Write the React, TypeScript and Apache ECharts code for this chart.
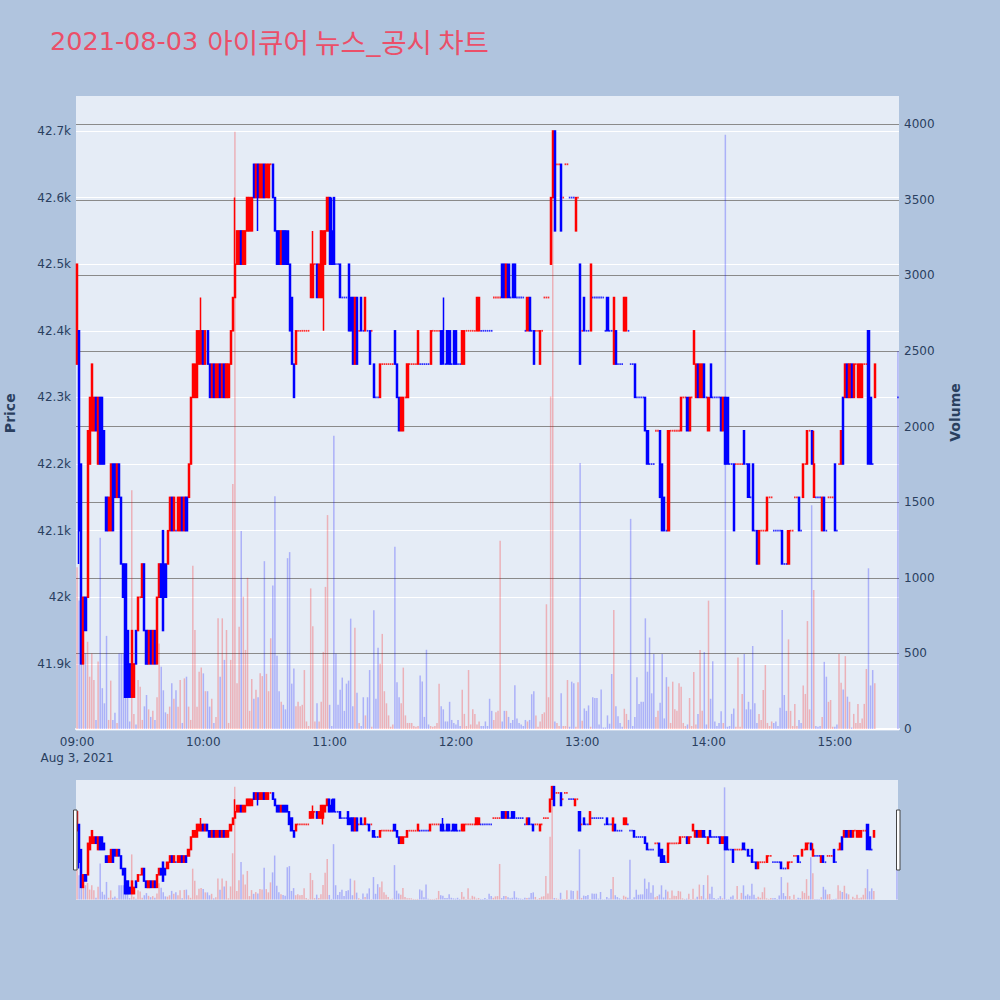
import React, { useEffect, useRef } from 'react';
import * as echarts from 'echarts';

const titleDate = '2021-08-03';
const titleName = '아이큐어 뉴스_공시 차트';
const dateLabel = 'Aug 3, 2021';
const timeTickMinutes = [0, 60, 120, 180, 240, 300, 360];
const timeTickLabels = ['09:00', '10:00', '11:00', '12:00', '13:00', '14:00', '15:00'];
const closingAuctionMinute = 390;

// one candle per minute from 09:00 (index = minutes after 09:00), last entry = 15:30 closing auction
const opens = [
  42350, 42400, 42200, 41900, 42000, 42000, 42200, 42250, 42250, 42300,
  42200, 42300, 42300, 42250, 42150, 42100, 42100, 42200, 42200, 42150,
  42200, 42150, 42050, 42050, 41950, 41900, 41850, 41850, 41950, 41950,
  42000, 42000, 42050, 41950, 41900, 41950, 41900, 41950, 41900, 42000,
  42050, 42100, 42050, 42050, 42100, 42150, 42100, 42100, 42100, 42100,
  42150, 42100, 42150, 42150, 42200, 42300, 42300, 42300, 42350, 42350,
  42400, 42350, 42400, 42350, 42300, 42350, 42300, 42300, 42350, 42300,
  42350, 42300, 42300, 42350, 42400, 42450, 42500, 42500, 42550, 42500,
  42500, 42550, 42550, 42550, 42650, 42600, 42650, 42600, 42600, 42650,
  42600, 42600, 42650, 42650, 42600, 42550, 42550, 42500, 42550, 42550,
  42550, 42500, 42450, 42350, 42350, 42400, 42400, 42400, 42400, 42400,
  42400, 42450, 42450, 42500, 42500, 42450, 42450, 42450, 42500, 42550,
  42600, 42550, 42600, 42500, 42500, 42500, 42450, 42450, 42450, 42500,
  42450, 42450, 42350, 42450, 42400, 42450, 42400, 42400, 42400, 42400,
  42400, 42350, 42300, 42300, 42300, 42350, 42350, 42350, 42350, 42350,
  42350, 42400, 42350, 42300, 42250, 42250, 42300, 42300, 42350, 42350,
  42350, 42350, 42350, 42350, 42350, 42350, 42350, 42350, 42350, 42400,
  42400, 42400, 42400, 42400, 42400, 42350, 42400, 42400, 42350, 42400,
  42400, 42350, 42350, 42350, 42350, 42400, 42400, 42400, 42400, 42400,
  42400, 42400, 42400, 42400, 42400, 42400, 42400, 42400, 42450, 42450,
  42450, 42450, 42500, 42500, 42450, 42500, 42450, 42500, 42500, 42450,
  42450, 42450, 42450, 42400, 42400, 42450, 42400, 42400, 42400, 42400,
  42350, 42400, 42450, 42450, 42450, 42500, 42600, 42700, 42650, 42650,
  42650, 42600, 42650, 42650, 42600, 42600, 42600, 42550, 42600, 42500,
  42400, 42450, 42400, 42400, 42400, 42450, 42450, 42450, 42450, 42450,
  42450, 42400, 42450, 42400, 42400, 42350, 42400, 42350, 42350, 42350,
  42400, 42400, 42400, 42350, 42350, 42350, 42300, 42300, 42300, 42300,
  42300, 42250, 42200, 42200, 42200, 42250, 42250, 42250, 42200, 42150,
  42100, 42100, 42250, 42250, 42250, 42250, 42250, 42250, 42300, 42300,
  42300, 42250, 42300, 42350, 42300, 42350, 42300, 42300, 42350, 42300,
  42250, 42350, 42300, 42300, 42300, 42300, 42300, 42250, 42300, 42300,
  42200, 42200, 42200, 42200, 42200, 42200, 42200, 42250, 42200, 42200,
  42150, 42200, 42100, 42100, 42050, 42100, 42100, 42100, 42100, 42150,
  42150, 42100, 42100, 42100, 42100, 42100, 42050, 42050, 42050, 42100,
  42100, 42150, 42150, 42150, 42100, 42150, 42200, 42200, 42250, 42250,
  42150, 42150, 42150, 42150, 42100, 42150, 42100, 42150, 42150, 42150,
  42200, 42100, 42200, 42200, 42300, 42300, 42350, 42300, 42350, 42300,
  42350, 42300, 42300, 42300, 42350, 42350, 42400, 42300, 42200, 42300,
  42300,
];

const closes = [
  42500, 42100, 41900, 42000, 41950, 42250, 42300, 42350, 42300, 42250,
  42300, 42200, 42200, 42200, 42100, 42150, 42200, 42100, 42150, 42200,
  42150, 42050, 42000, 41850, 41850, 41850, 41950, 41900, 41900, 42000,
  42000, 42050, 41950, 41900, 41950, 41900, 41950, 41900, 42000, 42050,
  42000, 41950, 42000, 42100, 42150, 42100, 42150, 42100, 42150, 42150,
  42100, 42150, 42100, 42200, 42300, 42350, 42350, 42400, 42400, 42400,
  42350, 42400, 42350, 42300, 42350, 42300, 42350, 42350, 42300, 42350,
  42300, 42350, 42350, 42400, 42450, 42500, 42550, 42550, 42500, 42550,
  42550, 42600, 42600, 42600, 42600, 42650, 42600, 42650, 42650, 42600,
  42650, 42650, 42650, 42600, 42550, 42500, 42500, 42550, 42500, 42500,
  42500, 42400, 42350, 42300, 42400, 42400, 42400, 42400, 42400, 42400,
  42400, 42500, 42500, 42500, 42450, 42500, 42550, 42550, 42550, 42600,
  42500, 42500, 42500, 42500, 42500, 42450, 42450, 42450, 42450, 42400,
  42400, 42350, 42450, 42350, 42400, 42400, 42400, 42450, 42400, 42350,
  42400, 42300, 42300, 42300, 42350, 42350, 42350, 42350, 42350, 42350,
  42350, 42350, 42300, 42250, 42300, 42300, 42300, 42350, 42350, 42350,
  42350, 42350, 42400, 42350, 42350, 42350, 42350, 42350, 42400, 42400,
  42400, 42400, 42400, 42350, 42350, 42350, 42350, 42350, 42350, 42350,
  42350, 42350, 42350, 42400, 42400, 42400, 42400, 42400, 42400, 42400,
  42450, 42450, 42400, 42400, 42400, 42400, 42400, 42400, 42450, 42450,
  42450, 42450, 42450, 42450, 42500, 42450, 42450, 42450, 42450, 42450,
  42450, 42450, 42450, 42400, 42450, 42400, 42400, 42350, 42400, 42400,
  42400, 42400, 42450, 42450, 42450, 42600, 42700, 42550, 42650, 42650,
  42550, 42600, 42650, 42650, 42600, 42600, 42600, 42600, 42600, 42350,
  42400, 42400, 42400, 42400, 42500, 42450, 42450, 42450, 42450, 42450,
  42450, 42400, 42400, 42400, 42400, 42450, 42350, 42350, 42350, 42350,
  42450, 42450, 42400, 42350, 42350, 42300, 42300, 42300, 42300, 42300,
  42250, 42200, 42200, 42200, 42200, 42250, 42250, 42150, 42100, 42100,
  42100, 42250, 42250, 42250, 42250, 42250, 42250, 42300, 42300, 42300,
  42250, 42300, 42300, 42400, 42350, 42300, 42350, 42350, 42300, 42300,
  42300, 42300, 42300, 42300, 42300, 42300, 42250, 42300, 42200, 42200,
  42200, 42200, 42100, 42200, 42200, 42200, 42200, 42200, 42200, 42150,
  42150, 42100, 42100, 42050, 42100, 42100, 42100, 42100, 42150, 42150,
  42150, 42100, 42100, 42100, 42100, 42050, 42050, 42050, 42100, 42100,
  42100, 42150, 42150, 42100, 42100, 42200, 42200, 42250, 42250, 42200,
  42200, 42150, 42150, 42150, 42150, 42100, 42100, 42150, 42150, 42150,
  42100, 42100, 42200, 42250, 42200, 42350, 42300, 42350, 42300, 42350,
  42350, 42350, 42350, 42350, 42350, 42350, 42200, 42200, 42200, 42350,
  42300,
];

// [candle index, price] where a wick reaches beyond the body
const highWicks: [number, number][] = [[59, 42450], [75, 42600], [112, 42550], [121, 42600], [174, 42450], [350, 42250]];
const lowWicks: [number, number][] = [[1, 42050], [86, 42550], [117, 42400]];

const volumes = [
  1070, 850, 500, 460, 500, 577, 346, 500, 324, 60,
  446, 1265, 270, 170, 616, 60, 320, 60, 108, 40,
  500, 500, 500, 256, 236, 50, 1580, 100, 30, 324,
  280, 60, 150, 225, 130, 80, 120, 60, 210, 566,
  412, 256, 110, 100, 148, 302, 200, 256, 148, 324,
  40, 335, 346, 148, 60, 1080, 655, 148, 379, 407,
  368, 250, 250, 148, 200, 40, 80, 732, 345, 732,
  457, 655, 40, 457, 1620, 3950, 302, 677, 1310, 875,
  523, 1000, 120, 330, 200, 260, 210, 368, 350, 1110,
  365, 250, 600, 950, 1540, 485, 250, 180, 160, 130,
  1130, 1170, 300, 400, 150, 180, 150, 160, 390, 50,
  20, 930, 680, 50, 170, 50, 180, 510, 940, 1415,
  160, 20, 1940, 500, 160, 260, 340, 120, 300, 320,
  730, 150, 670, 240, 40, 20, 210, 90, 210, 390,
  15, 786, 200, 537, 432, 629, 250, 170, 90, 15,
  30, 1205, 310, 210, 170, 406, 90, 40, 40, 40,
  20, 15, 20, 354, 314, 80, 524, 30, 20, 15,
  20, 40, 300, 150, 130, 50, 50, 180, 60, 40,
  30, 60, 20, 260, 100, 20, 390, 30, 130, 100,
  30, 50, 20, 20, 50, 20, 200, 120, 60, 110,
  120, 1245, 50, 120, 120, 80, 40, 60, 290, 70,
  40, 30, 20, 60, 50, 60, 230, 250, 90, 15,
  50, 100, 110, 825, 210, 2200, 3960, 50, 40, 20,
  236, 20, 20, 324, 15, 313, 302, 15, 309, 1760,
  55, 136, 120, 156, 15, 210, 205, 205, 30, 262,
  10, 10, 90, 35, 364, 787, 150, 85, 40, 15,
  134, 100, 60, 1390, 20, 80, 343, 166, 180, 180,
  732, 379, 605, 236, 496, 80, 120, 174, 496, 70,
  343, 280, 40, 313, 130, 120, 302, 280, 40, 20,
  30, 205, 20, 377, 30, 100, 523, 120, 509, 30,
  849, 200, 448, 50, 20, 40, 118, 40, 3930, 15,
  20, 100, 136, 15, 473, 15, 232, 496, 130, 180,
  130, 549, 170, 40, 100, 60, 258, 423, 40, 20,
  50, 40, 50, 20, 140, 787, 225, 120, 593, 120,
  20, 166, 20, 60, 40, 288, 232, 714, 130, 1480,
  919, 20, 15, 20, 80, 444, 346, 180, 192, 15,
  15, 30, 496, 306, 262, 482, 214, 180, 10, 100,
  40, 166, 40, 70, 166, 397, 1063, 288, 390, 302,
  2500,
];

const RED = '#ff0000';
const BLUE = '#0000ff';
const RED_VOL = 'rgba(255,0,0,0.25)';
const BLUE_VOL = 'rgba(0,0,255,0.25)';
const AXIS_TEXT = '#2a3f5f';
const PLOT_BG = '#E5ECF6';
const TITLE_COLOR = '#EB4F69';
const FONT = 'DejaVu Sans, Verdana, sans-serif';

export default function App() {
  const ref = useRef<HTMLDivElement>(null);

  useEffect(() => {
    document.body.style.margin = '0';
    const chart = echarts.init(ref.current!, null, { renderer: 'svg' });

    const minutes = opens.map((_, i) => (i === opens.length - 1 ? closingAuctionMinute : i));
    const hiMap = new Map(highWicks);
    const loMap = new Map(lowWicks);

    // plotly-style direction: a doji takes its direction from the change vs the previous close
    let prevClose: number | null = null;
    let prevUp = true;
    const ups = opens.map((o, i) => {
      const c = closes[i];
      let up = prevUp;
      if (c > o) up = true;
      else if (c < o) up = false;
      else if (prevClose !== null && c !== prevClose) up = c > prevClose;
      prevClose = c;
      prevUp = up;
      return up;
    });

    const candleData: any[] = [];
    const dojiData: any[] = [];
    minutes.forEach((m, i) => {
      const o = opens[i];
      const c = closes[i];
      const col = ups[i] ? RED : BLUE;
      const lo = loMap.has(i) ? (loMap.get(i) as number) : Math.min(o, c);
      const hi = hiMap.has(i) ? (hiMap.get(i) as number) : Math.max(o, c);
      if (o === c && lo === hi) {
        dojiData.push({ value: [m, c], itemStyle: { color: col } });
      } else {
        candleData.push({
          value: [m, o, c, lo, hi],
          itemStyle: { color: col, color0: col, borderColor: col, borderColor0: col },
        });
      }
    });
    const volData = minutes.map((m, i) => ({
      value: [m, volumes[i]],
      itemStyle: { color: ups[i] ? RED_VOL : BLUE_VOL },
    }));

    const xBase = { type: 'value', min: -0.5, max: 390.5 };
    const hiddenAxisParts = {
      axisLabel: { show: false },
      axisTick: { show: false },
      splitLine: { show: false },
      axisLine: { show: false },
    };

    const candleSeries = (xi: number, yi: number) => ({
      type: 'candlestick',
      xAxisIndex: xi,
      yAxisIndex: yi,
      barWidth: 1.6,
      encode: { x: 0, y: [1, 2, 3, 4] },
      itemStyle: { borderWidth: 1.5 },
      data: candleData,
      silent: true,
    });
    const dojiSeries = (xi: number, yi: number) => ({
      type: 'scatter',
      xAxisIndex: xi,
      yAxisIndex: yi,
      symbol: 'rect',
      symbolSize: [1.6, 1.8],
      data: dojiData,
      silent: true,
      z: 3,
    });
    const volSeries = (xi: number, yi: number) => ({
      type: 'bar',
      xAxisIndex: xi,
      yAxisIndex: yi,
      barWidth: 1.5,
      data: volData,
      silent: true,
    });

    const option: any = {
      animation: false,
      backgroundColor: '#B0C4DE',
      title: {
        text: `{d|${titleDate} }{k|${titleName}}`,
        left: 50,
        top: 27,
        padding: 0,
        textStyle: {
          fontWeight: 'normal',
          rich: {
            d: { fontFamily: FONT, fontSize: 25.5, fontWeight: 'normal', color: TITLE_COLOR },
            k: { fontFamily: 'Noto Sans CJK KR', fontSize: 27.6, fontWeight: 'normal', color: TITLE_COLOR, padding: [0, 0, 0, 1] },
          },
        },
      },
      graphic: [
        { type: 'rect', z: -1, silent: true, shape: { x: 76, y: 96, width: 823, height: 634.5 }, style: { fill: PLOT_BG } },
        { type: 'rect', z: -1, silent: true, shape: { x: 76, y: 780, width: 822, height: 120 }, style: { fill: PLOT_BG } },
        { type: 'rect', z: 10, silent: true, shape: { x: 73.5, y: 810, width: 3.5, height: 60 }, style: { fill: '#ffffff', stroke: '#444444', lineWidth: 1 } },
        { type: 'rect', z: 10, silent: true, shape: { x: 896.5, y: 810, width: 3.5, height: 60 }, style: { fill: '#ffffff', stroke: '#444444', lineWidth: 1 } },
      ],
      grid: [
        { left: 76, top: 96, width: 823, height: 634.5, outerBoundsMode: 'none' },
        { left: 76, top: 96, width: 823, height: 633, outerBoundsMode: 'none' },
        { left: 76, top: 780, width: 822, height: 120, outerBoundsMode: 'none' },
        { left: 76, top: 780, width: 822, height: 119.5, outerBoundsMode: 'none' },
      ],
      xAxis: [
        {
          ...xBase,
          gridIndex: 0,
          axisLine: { show: false },
          axisTick: { show: false },
          splitLine: { show: false },
          axisLabel: {
            customValues: timeTickMinutes,
            color: AXIS_TEXT,
            fontFamily: FONT,
            fontSize: 12,
            margin: 3,
            lineHeight: 16,
            formatter: (v: number) => {
              const i = timeTickMinutes.indexOf(v);
              if (i < 0) return '';
              return i === 0 ? `${timeTickLabels[i]}\n${dateLabel}` : timeTickLabels[i];
            },
          },
        },
        {
          ...xBase,
          gridIndex: 1,
          axisLabel: { show: false },
          axisTick: { show: false },
          splitLine: { show: false },
          axisLine: { show: true, onZero: false, lineStyle: { color: '#ffffff', width: 2 } },
        },
        { ...xBase, gridIndex: 2, ...hiddenAxisParts },
        { ...xBase, gridIndex: 3, ...hiddenAxisParts },
      ],
      yAxis: [
        {
          type: 'value',
          gridIndex: 0,
          min: 41800,
          max: 42752.5,
          interval: 100,
          name: 'Price',
          nameLocation: 'middle',
          nameGap: 59,
          nameTextStyle: { color: AXIS_TEXT, fontFamily: FONT, fontSize: 14, fontWeight: 'bold' },
          axisLine: { show: false },
          axisTick: { show: false },
          splitLine: { show: true, showMinLine: false, showMaxLine: false, lineStyle: { color: '#ffffff', width: 1 } },
          axisLabel: {
            color: AXIS_TEXT,
            fontFamily: FONT,
            fontSize: 12,
            margin: 5,
            formatter: (v: number) => (v % 100 === 0 && v !== 41800 ? `${v / 1000}k` : ''),
          },
        },
        {
          type: 'value',
          gridIndex: 1,
          position: 'right',
          min: 0,
          max: 4187,
          interval: 500,
          name: 'Volume',
          nameLocation: 'middle',
          nameGap: 49,
          nameTextStyle: { color: AXIS_TEXT, fontFamily: FONT, fontSize: 14, fontWeight: 'bold' },
          axisLine: { show: false },
          axisTick: { show: false },
          splitLine: { show: true, showMinLine: false, showMaxLine: false, lineStyle: { color: '#8a8a8a', width: 1 } },
          axisLabel: {
            color: AXIS_TEXT,
            fontFamily: FONT,
            fontSize: 12,
            margin: 5,
            formatter: (v: number) => (v % 500 === 0 ? String(v) : ''),
          },
        },
        { type: 'value', gridIndex: 2, min: 41800, max: 42752.5, ...hiddenAxisParts },
        { type: 'value', gridIndex: 3, min: 0, max: 4187, ...hiddenAxisParts },
      ],
      series: [
        volSeries(1, 1),
        candleSeries(0, 0),
        dojiSeries(0, 0),
        volSeries(3, 3),
        candleSeries(2, 2),
        dojiSeries(2, 2),
      ],
    };

    chart.setOption(option);
    return () => chart.dispose();
  }, []);

  return <div ref={ref} style={{ width: 1000, height: 1000 }} />;
}
